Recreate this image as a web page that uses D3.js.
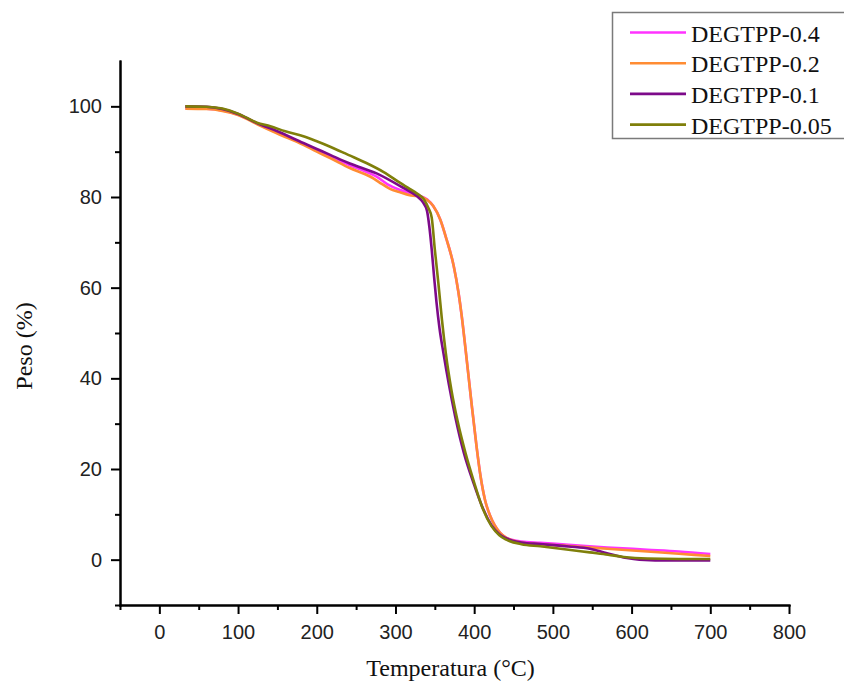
<!DOCTYPE html>
<meta charset="utf-8">
<style>

body {
  margin: 0;
  background: #fff;
}

.axis path,
.axis line {
  fill: none;
  stroke: #000;
  stroke-width: 2px;
}

.axis text {
  font: 20px "Liberation Sans", Arial, sans-serif;
  fill: #222;
}

.title {
  font: 24px "Liberation Serif", "Times New Roman", serif;
  fill: #111;
}

.curve {
  fill: none;
  stroke-width: 2.6px;
}

</style>
<body>
<div id="draw"></div>
<script src="https://d3js.org/d3.v7.min.js"></script>
<script>

// legend names and colours
var names = ["DEGTPP-0.4", "DEGTPP-0.2", "DEGTPP-0.1", "DEGTPP-0.05"];
var colors = ["#ff33ff", "#ff8c33", "#7d0a8a", "#7f7f0a"];

// temperature (°C) / weight (%)
var temp04 = [33, 60, 80, 100, 125, 150, 183, 200, 217, 242, 262, 276, 290, 305, 318, 327, 340, 348, 357, 365, 374, 380, 384, 389, 396, 403, 408, 414, 420, 426, 433, 441, 460, 484, 520, 569, 620, 660, 700];
var peso04 = [99.6, 99.5, 99.1, 98.2, 96.2, 94.2, 91.7, 90.3, 89.0, 87.0, 85.6, 84.5, 82.8, 81.6, 80.9, 80.5, 79.5, 78, 75, 70.6, 64.8, 59, 54, 46.5, 35.5, 25, 18.5, 13, 9.8, 7.6, 5.9, 4.8, 4.0, 3.7, 3.3, 2.7, 2.2, 1.8, 1.25];

var temp02 = [33, 60, 80, 100, 125, 150, 183, 200, 217, 242, 263, 270, 279, 293, 305, 318, 327, 340, 348, 357, 365, 374, 380, 384, 389, 396, 403, 408, 414, 420, 426, 433, 441, 460, 484, 520, 569, 620, 660, 700];
var peso02 = [99.5, 99.4, 99.0, 98.1, 96.0, 94.0, 91.5, 90.0, 88.6, 86.4, 84.9, 84.3, 83.3, 81.8, 81.1, 80.4, 80.2, 79.4, 78, 75, 70.6, 64.8, 59, 54, 46.5, 35.5, 25, 18.5, 13, 9.8, 7.6, 5.9, 4.8, 3.8, 3.4, 3.0, 2.4, 1.8, 1.3, 0.8];

var temp01 = [33, 60, 80, 100, 124, 150, 183, 200, 217, 242, 276, 306, 327, 335, 340, 343, 346, 349, 352, 356, 361, 368, 376, 387, 399, 410, 422, 432, 441, 460, 484, 520, 547, 565, 580, 594, 610, 650, 700];
var peso01 = [100, 99.9, 99.4, 98.3, 96.3, 94.5, 91.9, 90.6, 89.3, 87.4, 85.2, 82.4, 80.2, 78.8, 77.0, 73.5, 68.5, 62.5, 57, 51, 45.5, 38.5, 31.5, 23.5, 17, 11.8, 7.6, 5.6, 4.7, 3.8, 3.45, 2.9, 2.4, 1.6, 0.9, 0.35, 0.0, -0.2, -0.2];

var temp005 = [33, 60, 80, 100, 124, 141, 160, 183, 200, 217, 240, 263, 285, 306, 318, 327, 336, 342, 346, 350, 354.5, 359, 364, 371, 379, 389, 400, 411, 422, 432, 441, 460, 484, 520, 547, 570, 590, 620, 660, 700];
var peso005 = [100, 99.9, 99.5, 98.4, 96.4, 95.6, 94.5, 93.4, 92.3, 91.1, 89.3, 87.5, 85.5, 83.1, 81.8, 80.8, 79.5, 77.5, 75.5, 68.4, 61, 53, 45.5, 37.5, 30.5, 23.5, 17, 11.2, 7.4, 5.4, 4.4, 3.4, 2.95, 2.2, 1.6, 1.1, 0.6, 0.25, 0.15, 0.15];

var xTicks = [0, 100, 200, 300, 400, 500, 600, 700, 800];
var yTicks = [0, 20, 40, 60, 80, 100];

var series = [
  {name: names[0], color: colors[0], t: temp04, w: peso04},
  {name: names[1], color: colors[1], t: temp02, w: peso02},
  {name: names[2], color: colors[2], t: temp01, w: peso01},
  {name: names[3], color: colors[3], t: temp005, w: peso005}
];

var margin = {top: 61, right: 55, bottom: 76, left: 120},
    width = 844 - margin.left - margin.right,
    height = 681 - margin.top - margin.bottom;

var x = d3.scaleLinear().domain([-50, 800]).range([0, width]);
var y = d3.scaleLinear().domain([-10, 110]).range([height, 0]);

var svg = d3.select("#draw").append("svg")
    .attr("width", 844)
    .attr("height", 681)
  .append("g")
    .attr("transform", "translate(" + margin.left + "," + margin.top + ")");

// minor ticks first, then major with labels
svg.append("g")
    .attr("class", "x axis")
    .attr("transform", "translate(0," + height + ")")
    .call(d3.axisBottom(x).tickValues(d3.range(-50, 801, 100)).tickSize(5).tickSizeOuter(0).tickFormat(""));

svg.append("g")
    .attr("class", "x axis")
    .attr("transform", "translate(0," + height + ")")
    .call(d3.axisBottom(x).tickValues(xTicks).tickSize(9).tickSizeOuter(0).tickPadding(11));

svg.append("g")
    .attr("class", "y axis")
    .call(d3.axisLeft(y).tickValues(d3.range(-10, 101, 20)).tickSize(5).tickSizeOuter(0).tickFormat(""));

svg.append("g")
    .attr("class", "y axis")
    .call(d3.axisLeft(y).tickValues(yTicks).tickSize(9).tickSizeOuter(0).tickPadding(9));

svg.selectAll(".axis .domain").attr("stroke-linecap", "square");

var line = d3.line()
    .x(function(d) { return x(d[0]); })
    .y(function(d) { return y(d[1]); })
    .curve(d3.curveMonotoneX);

svg.selectAll(".curve")
    .data(series)
  .enter().append("path")
    .attr("class", "curve")
    .attr("stroke", function(d) { return d.color; })
    .attr("d", function(d) {
      return line(d.t.map(function(t, i) { return [t, d.w[i]]; }));
    });

// axis titles
svg.append("text")
    .attr("class", "title")
    .attr("x", x(370))
    .attr("y", height + 71)
    .attr("text-anchor", "middle")
    .text("Temperatura (°C)");

svg.append("text")
    .attr("class", "title")
    .attr("transform", "translate(" + (32 - margin.left) + "," + (346 - margin.top) + ") rotate(-90)")
    .attr("text-anchor", "middle")
    .text("Peso (%)");

// legend
var lg = d3.select("#draw svg").append("g")
    .attr("transform", "translate(612,12)");

lg.append("rect")
    .attr("x", 0.5)
    .attr("y", 0.5)
    .attr("width", 260)
    .attr("height", 126)
    .attr("fill", "#fff")
    .attr("stroke", "#7a7a7a")
    .attr("stroke-width", 1.5);

var item = lg.selectAll(".legend")
    .data(series)
  .enter().append("g")
    .attr("class", "legend")
    .attr("transform", function(d, i) { return "translate(0," + (20.5 + i * 30.7) + ")"; });

item.append("line")
    .attr("x1", 18)
    .attr("x2", 74)
    .attr("stroke", function(d) { return d.color; })
    .attr("stroke-width", 2.6);

item.append("text")
    .attr("class", "title")
    .attr("x", 79)
    .attr("y", 9)
    .text(function(d) { return d.name; });

</script>
